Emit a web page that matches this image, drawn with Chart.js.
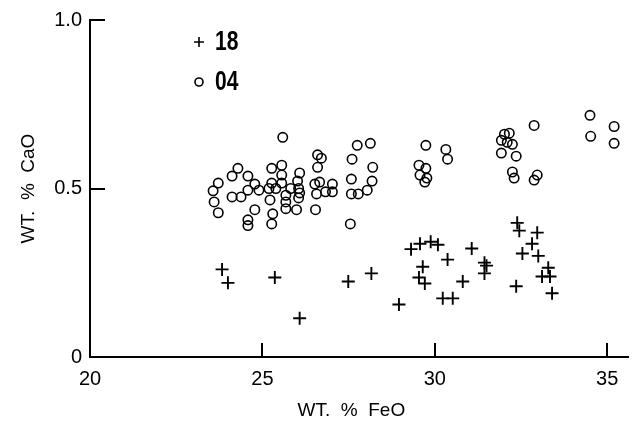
<!DOCTYPE html>
<html>
<head>
<meta charset="utf-8">
<script src="https://cdn.jsdelivr.net/npm/chart.js@4.4.1/dist/chart.umd.min.js"></script>
<style>
  html, body { margin: 0; padding: 0; background: #fff; }
  #wrap { position: relative; width: 637px; height: 422px; }
</style>
</head>
<body>
<div id="wrap"><canvas id="chart"></canvas></div>
<script>
/* ── DATA ─────────────────────────────────────────────── */
const seriesLabels = ['18', '04'];

// sample 18 (crosses)
const crossFeO = [23.83, 24.00, 25.36, 26.08, 27.49, 28.16, 28.96, 29.31, 29.57, 29.88,
                  30.09, 29.65, 29.54, 29.71, 30.37, 30.23, 30.52, 30.81, 31.07, 31.44,
                  31.50, 31.44, 32.39, 32.45, 32.97, 32.82, 32.54, 33.00, 33.29, 33.11,
                  33.34, 32.36, 33.40];
const crossCaO = [0.260, 0.220, 0.236, 0.115, 0.224, 0.248, 0.156, 0.320, 0.336, 0.342,
                  0.333, 0.268, 0.236, 0.218, 0.289, 0.174, 0.174, 0.224, 0.322, 0.280,
                  0.271, 0.248, 0.398, 0.375, 0.369, 0.336, 0.307, 0.300, 0.265, 0.239,
                  0.239, 0.210, 0.189];

// sample 04 (circles)
const circleFeO = [23.57, 23.60, 23.72, 23.72, 24.12, 24.29, 24.12, 24.38, 24.58, 24.78,
                   24.58, 24.90, 24.78, 24.58, 24.58, 25.27, 25.56, 25.56, 25.27, 25.19,
                   25.39, 25.56, 25.22, 25.30, 25.27, 25.59, 25.68, 25.82, 25.68, 25.68,
                   25.99, 26.08, 26.02, 26.05, 26.08, 26.05, 26.60, 26.71, 26.60, 26.52,
                   26.66, 26.57, 26.83, 27.03, 27.03, 26.54, 27.75, 28.13, 27.60, 28.20,
                   27.58, 28.18, 27.58, 27.78, 28.04, 27.55, 29.74, 30.32, 30.37, 29.54,
                   29.74, 29.57, 29.77, 29.71, 32.88, 32.02, 32.16, 31.93, 32.10, 32.25,
                   31.93, 32.36, 32.25, 32.30, 32.97, 32.88, 34.50, 34.52, 35.20, 35.20];
const circleCaO = [0.493, 0.460, 0.516, 0.428, 0.537, 0.560, 0.475, 0.475, 0.537, 0.513,
                   0.495, 0.495, 0.437, 0.407, 0.390, 0.560, 0.569, 0.540, 0.516, 0.500,
                   0.500, 0.516, 0.466, 0.425, 0.395, 0.652, 0.480, 0.500, 0.460, 0.440,
                   0.437, 0.546, 0.522, 0.500, 0.487, 0.472, 0.600, 0.590, 0.563, 0.513,
                   0.519, 0.484, 0.490, 0.490, 0.513, 0.437, 0.628, 0.634, 0.587, 0.563,
                   0.528, 0.522, 0.484, 0.484, 0.495, 0.395, 0.628, 0.616, 0.587, 0.569,
                   0.560, 0.540, 0.531, 0.519, 0.687, 0.661, 0.664, 0.643, 0.637, 0.631,
                   0.605, 0.596, 0.549, 0.531, 0.540, 0.525, 0.717, 0.655, 0.684, 0.634];

const xTicks = [20, 25, 30, 35];
const yTicks = [0, 0.5, 1.0];
const yTickLabels = ['0', '0.5', '1.0'];

const toPoints = (xs, ys) => xs.map((x, i) => ({ x, y: ys[i] }));

/* ── PLUGINS ──────────────────────────────────────────── */
// tick marks point into the plot area
const inwardTicks = {
  id: 'inwardTicks',
  afterDraw(chart) {
    const { ctx, chartArea: a, scales: { x, y } } = chart;
    ctx.save();
    ctx.strokeStyle = '#000';
    ctx.lineWidth = 2;
    ctx.beginPath();
    xTicks.slice(1).forEach(v => {
      const px = Math.round(x.getPixelForValue(v));
      ctx.moveTo(px, a.bottom);
      ctx.lineTo(px, a.bottom - 14);
    });
    yTicks.slice(1).forEach(v => {
      const py = Math.round(y.getPixelForValue(v));
      ctx.moveTo(a.left, py);
      ctx.lineTo(a.left + 15, py);
    });
    ctx.stroke();
    ctx.restore();
  }
};

// small legend in the upper left of the plot (narrow bold labels)
const keyBox = {
  id: 'keyBox',
  afterDraw(chart) {
    const { ctx, chartArea: a } = chart;
    const mx = a.left + 109, tx = a.left + 125;
    const rows = [a.top + 22, a.top + 62];
    ctx.save();
    ctx.strokeStyle = '#000';
    ctx.lineWidth = 1.6;
    ctx.beginPath();
    ctx.moveTo(mx - 5, rows[0]); ctx.lineTo(mx + 5, rows[0]);
    ctx.moveTo(mx, rows[0] - 5); ctx.lineTo(mx, rows[0] + 5);
    ctx.stroke();
    ctx.beginPath();
    ctx.arc(mx, rows[1], 4, 0, Math.PI * 2);
    ctx.stroke();
    ctx.fillStyle = '#000';
    ctx.font = "bold 27px 'Liberation Sans', sans-serif";
    ctx.textBaseline = 'middle';
    rows.forEach((ry, i) => {
      ctx.save();
      ctx.translate(tx, ry + 1);
      ctx.scale(0.78, 1);
      ctx.fillText(seriesLabels[i], 0, 0);
      ctx.restore();
    });
    ctx.restore();
  }
};

/* ── CHART ────────────────────────────────────────────── */
const axisFont = { family: "'Liberation Sans', sans-serif", size: 20 };

new Chart(document.getElementById('chart'), {
  type: 'scatter',
  data: {
    datasets: [{
      label: seriesLabels[0],
      data: toPoints(crossFeO, crossCaO),
      pointStyle: 'cross',
      pointRadius: 6.5,
      borderColor: '#000',
      borderWidth: 1.9,
      clip: false
    }, {
      label: seriesLabels[1],
      data: toPoints(circleFeO, circleCaO),
      pointStyle: 'circle',
      pointRadius: 4.7,
      backgroundColor: 'rgba(255,255,255,0)',
      borderColor: '#000',
      borderWidth: 1.6,
      clip: false
    }]
  },
  options: {
    responsive: true,
    maintainAspectRatio: false,
    animation: false,
    layout: { padding: { top: 18, right: 5, left: 0, bottom: 0 } },
    plugins: { legend: { display: false }, tooltip: { enabled: false } },
    scales: {
      x: {
        type: 'linear',
        min: 20,
        max: 35.62,
        afterBuildTicks: s => { s.ticks = xTicks.map(v => ({ value: v })); },
        afterFit: s => { s.height = 65; },
        grid: { display: true, drawOnChartArea: false, drawTicks: false, color: 'rgba(0,0,0,0)' },
        border: { display: true, color: '#000', width: 2 },
        ticks: { color: '#000', font: axisFont, padding: 10, maxRotation: 0 },
        title: { display: true, text: 'WT.  %  FeO   ', color: '#000', font: { family: axisFont.family, size: 19 }, padding: { top: 1, bottom: 0 } }
      },
      y: {
        type: 'linear',
        min: 0,
        max: 1,
        afterBuildTicks: s => { s.ticks = yTicks.map(v => ({ value: v })); },
        afterFit: s => { s.width = 90; },
        grid: { display: true, drawOnChartArea: false, drawTicks: false, color: 'rgba(0,0,0,0)' },
        border: { display: true, color: '#000', width: 2 },
        ticks: {
          color: '#000', font: axisFont, padding: 8,
          callback: (v) => yTickLabels[yTicks.indexOf(v)]
        },
        title: { display: true, text: 'WT.  %  CaO', color: '#000', font: { family: axisFont.family, size: 19 }, padding: { top: 17, bottom: 0 } }
      }
    }
  },
  plugins: [inwardTicks, keyBox]
});
</script>
</body>
</html>
